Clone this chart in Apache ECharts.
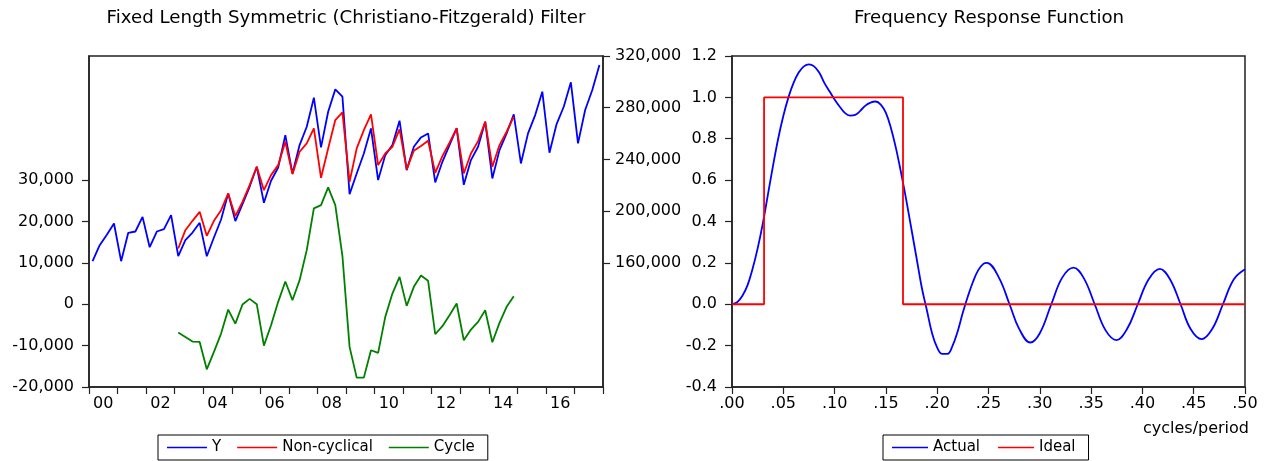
<!DOCTYPE html>
<html>
<head>
<meta charset="utf-8">
<script src="https://cdn.jsdelivr.net/npm/echarts@6/dist/echarts.min.js"></script>
<style>
html,body{margin:0;padding:0;background:#fff;}
#chart{width:1270px;height:461px;}
</style>
</head>
<body>
<div id="chart"></div>
<script>
// ---- Left panel data: quarterly 2000Q1..2017Q4 ----
var startYear = 2000;
var yValues = [
 161290,173680,181680,190450, 161290,183230,184260,195610, 172130,184260,186060,196900,
 165160,177550,183480,190970, 165160,179610,193550,213680, 192300,205420,218840,234320,
 206450,223480,233800,258840, 229160,251100,265290,287740, 249290,276900,294190,288520,
 213160,229160,244640,263980, 224000,243350,251100,269930, 231740,249800,257030,260130,
 222190,238190,251100,264260, 220380,239480,249800,269160, 225290,247220,260130,274840,
 236900,260130,274320,292390, 245160,267350,280770,299610, 252390,278190,293680,313030
];
// Non-cyclical and Cycle: 2003Q1..2014Q4 (quarter index 12..59)
var filterStart = 12;
var nonCyclical = [
 171100,185290,192520,199480, 180900,192520,200770,213680, 196130,207220,220130,234320,
 216250,227870,235610,253670, 228640,245930,252390,263990, 225800,248520,270450,276390,
 222710,248520,262710,274840, 235610,244640,249800,263220, 232260,246710,250320,254450,
 229680,242580,252900,264000, 229160,244640,254190,269160, 234320,251100,261420,273030
];
var cycle = [
 -6840,-7890,-9020,-9100, -15720,-11520,-7090,-1280, -4670,-70,1300,10,
 -9990,-5070,580,5500, 980,5820,13080,23160, 23970,28240,23970,11660,
 -10310,-17730,-17730,-11120, -11760,-3050,2590,6620, -390,4210,6950,5660,
 -7250,-5310,-2650,170, -8700,-6120,-4260,-1440, -9180,-4510,-630,1950
];
var leftTicks = [-20000,-10000,0,10000,20000,30000];
var rightTicks = [160000,200000,240000,280000,320000];

// ---- Right panel data: frequency response ----
var freq = [0,0.005,0.01,0.015,0.02,0.025,0.03,0.035,0.04,0.045,0.05,0.055,0.06,0.065,0.07,0.075,0.08,0.085,0.09,0.095,
 0.10,0.105,0.11,0.115,0.12,0.125,0.13,0.135,0.14,0.145,0.15,0.155,0.16,0.165,0.17,0.175,0.18,0.185,0.19,0.195,
 0.20,0.205,0.21,0.215,0.22,0.225,0.23,0.235,0.24,0.245,0.2484,0.26,0.2705,0.28,0.2907,0.30,0.3112,0.322,0.333,0.343,
 0.3535,0.364,0.3747,0.385,0.3955,0.406,0.417,0.427,0.4372,0.447,0.4577,0.468,0.4785,0.489,0.5];
var actual = [0,0.01,0.04,0.09,0.17,0.27,0.39,0.53,0.67,0.80,0.91,1.00,1.07,1.12,1.15,1.16,1.15,1.12,1.07,1.03,
 0.99,0.955,0.925,0.912,0.915,0.935,0.96,0.975,0.98,0.965,0.925,0.85,0.75,0.63,0.50,0.36,0.22,0.08,-0.03,-0.14,
 -0.21,-0.24,-0.24,-0.20,-0.13,-0.04,0.04,0.11,0.165,0.195,0.20,0.13,0.0,-0.12,-0.185,-0.14,0.0,0.13,0.177,0.125,
 0.0,-0.125,-0.173,-0.12,0.0,0.12,0.171,0.12,0.0,-0.12,-0.169,-0.12,0.0,0.12,0.169];
var idealFreq = [0,0.03125,0.03125,0.16667,0.16667,0.5];
var idealVal  = [0,0,1,1,0,0];

var FONT = 'DejaVu Sans';
var AX = '#222';
var LW = 1.8;

function fmtThousands(v){
  var s = Math.abs(v).toString().replace(/\B(?=(\d{3})+(?!\d))/g, ',');
  return (v < 0 ? '-' : '') + s;
}
var qTicks = []; for (var q = 0; q <= 72; q += 4) qTicks.push(q);
var qLabels = []; for (var q2 = 2; q2 < 72; q2 += 8) qLabels.push(q2);

var ySeries = yValues.map(function(v,i){ return [i+0.5, v]; });
var ncSeries = nonCyclical.map(function(v,i){ return [filterStart+i+0.5, v]; });
var cySeries = cycle.map(function(v,i){ return [filterStart+i+0.5, v]; });
var actSeries = freq.map(function(f,i){ return [f, actual[i]]; });
var idSeries = idealFreq.map(function(f,i){ return [f, idealVal[i]]; });

var axisLine = {show:true, onZero:false, lineStyle:{color:AX, width:1.5}};
var axisTick = {show:true, inside:false, length:7, lineStyle:{color:AX, width:1.2}};
var lbl = {color:'#000', fontFamily:FONT, fontSize:16};

var chart = echarts.init(document.getElementById('chart'), null, {renderer:'canvas'});
chart.setOption({
  animation:false,
  backgroundColor:'#fff',
  title:[
    {text:'Fixed Length Symmetric (Christiano-Fitzgerald) Filter', left:346, top:9, textAlign:'center', padding:0,
     textStyle:{fontFamily:FONT, fontSize:18.2, fontWeight:'normal', color:'#000'}},
    {text:'Frequency Response Function', left:989, top:9, textAlign:'center', padding:0,
     textStyle:{fontFamily:FONT, fontSize:18.2, fontWeight:'normal', color:'#000'}}
  ],
  grid:[
    {left:89, top:56, width:514, height:331, show:true, borderColor:AX, borderWidth:1.5, backgroundColor:'#fff', containLabel:false},
    {left:732, top:56, width:513, height:331, show:true, borderColor:AX, borderWidth:1.5, backgroundColor:'#fff', containLabel:false}
  ],
  legend:[
    {data:['Y','Non-cyclical','Cycle'], left:158, top:435, orient:'horizontal', icon:'rect',
     itemWidth:40, itemHeight:1.5, itemGap:16, padding:[5,13,5,9],
     borderColor:'#000', borderWidth:1, borderRadius:0, selectedMode:false,
     textStyle:{fontFamily:FONT, fontSize:15, color:'#000'}},
    {data:['Actual','Ideal'], left:883, top:435, orient:'horizontal', icon:'rect',
     itemWidth:36, itemHeight:1.5, itemGap:18, padding:[5,13,5,9],
     borderColor:'#000', borderWidth:1, borderRadius:0, selectedMode:false,
     textStyle:{fontFamily:FONT, fontSize:15, color:'#000'}}
  ],
  xAxis:[
    {type:'value', gridIndex:0, min:0, max:72, position:'bottom',
     axisLine:axisLine, axisTick:Object.assign({customValues:qTicks}, axisTick),
     axisLabel:Object.assign({customValues:qLabels, margin:9,
       formatter:function(v){ var y=(startYear+(v-2)/4)%100; return (y<10?'0':'')+y; }}, lbl),
     splitLine:{show:false}},
    {type:'value', gridIndex:1, min:0, max:0.5, interval:0.05, position:'bottom',
     axisLine:axisLine, axisTick:axisTick,
     axisLabel:Object.assign({margin:9, showMinLabel:true, showMaxLabel:true,
       formatter:function(v){ return v.toFixed(2).replace(/^0/,''); }}, lbl),
     splitLine:{show:false}}
  ],
  yAxis:[
    {type:'value', gridIndex:0, min:-20000, max:60000, position:'left',
     axisLine:axisLine, axisTick:Object.assign({customValues:leftTicks}, axisTick),
     axisLabel:Object.assign({customValues:leftTicks, margin:15, formatter:fmtThousands}, lbl),
     splitLine:{show:false}},
    {type:'value', gridIndex:0, min:64000, max:320000, position:'right',
     axisLine:axisLine, axisTick:Object.assign({customValues:rightTicks}, axisTick),
     axisLabel:Object.assign({customValues:rightTicks, margin:12, formatter:fmtThousands}, lbl),
     splitLine:{show:false}},
    {type:'value', gridIndex:1, min:-0.4, max:1.2, interval:0.2, position:'left',
     axisLine:axisLine, axisTick:axisTick,
     axisLabel:Object.assign({margin:15, showMinLabel:true, showMaxLabel:true,
       formatter:function(v){ return v.toFixed(1); }}, lbl),
     splitLine:{show:false}}
  ],
  series:[
    {name:'Y', type:'line', xAxisIndex:0, yAxisIndex:1, data:ySeries, symbol:'none',
     lineStyle:{color:'#0000FF', width:LW}, itemStyle:{color:'#0000FF'}},
    {name:'Non-cyclical', type:'line', xAxisIndex:0, yAxisIndex:1, data:ncSeries, symbol:'none',
     lineStyle:{color:'#FF0000', width:LW}, itemStyle:{color:'#FF0000'}},
    {name:'Cycle', type:'line', xAxisIndex:0, yAxisIndex:0, data:cySeries, symbol:'none',
     lineStyle:{color:'#008000', width:LW}, itemStyle:{color:'#008000'}},
    {name:'Actual', type:'line', xAxisIndex:1, yAxisIndex:2, data:actSeries, symbol:'none', smooth:0.4,
     lineStyle:{color:'#0000FF', width:LW}, itemStyle:{color:'#0000FF'}},
    {name:'Ideal', type:'line', xAxisIndex:1, yAxisIndex:2, data:idSeries, symbol:'none',
     lineStyle:{color:'#FF0000', width:LW}, itemStyle:{color:'#FF0000'}}
  ],
  graphic:[
    {type:'text', right:21, top:421,
     style:{text:'cycles/period', fontFamily:FONT, fontSize:16, fill:'#000'}}
  ]
});
</script>
</body>
</html>
